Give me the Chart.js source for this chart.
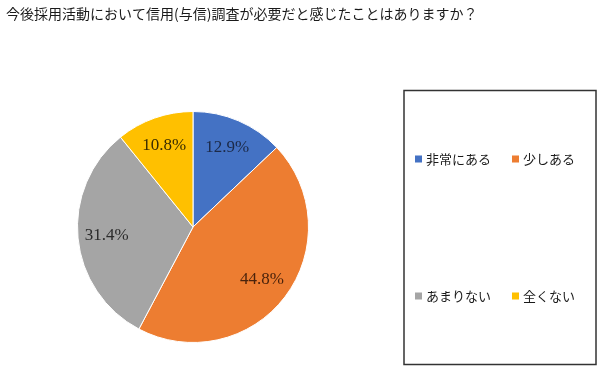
<!DOCTYPE html>
<html>
<head>
<meta charset="utf-8">
<script src="https://cdn.jsdelivr.net/npm/chart.js@4/dist/chart.umd.min.js"></script>
<style>
html,body{margin:0;padding:0;background:#fff;}
#wrap{position:relative;width:600px;height:384px;}
</style>
</head>
<body>
<div id="wrap"><canvas id="c" width="600" height="384"></canvas></div>
<script>
const titleText = '今後採用活動において信用(与信)調査が必要だと感じたことはありますか？';
const categories = ['非常にある', '少しある', 'あまりない', '全くない'];
const values = [12.9, 44.8, 31.4, 10.8];
const valueLabels = ['12.9%', '44.8%', '31.4%', '10.8%'];
const colors = ['#4472C4', '#ED7D31', '#A5A5A5', '#FFC000'];
const labelColors = ['#1c2a48', '#4a230c', '#2b2b2b', '#3a2c00'];

const titlePlugin = {
  id: 'customTitle',
  afterDraw(chart) {
    const ctx = chart.ctx;
    ctx.save();
    ctx.fillStyle = '#1a1a1a';
    ctx.font = '14px "Noto Sans CJK JP", sans-serif';
    ctx.textBaseline = 'middle';
    ctx.textAlign = 'left';
    ctx.fillText(titleText, 6, 14);
    ctx.restore();
  }
};

const sliceLabels = {
  id: 'sliceLabels',
  afterDatasetsDraw(chart) {
    const ctx = chart.ctx;
    const meta = chart.getDatasetMeta(0);
    ctx.save();
    ctx.font = '17px "Liberation Serif", serif';
    ctx.textAlign = 'center';
    ctx.textBaseline = 'middle';
    meta.data.forEach((arc, i) => {
      const p = arc.getProps(['x', 'y', 'startAngle', 'endAngle', 'outerRadius'], true);
      const mid = (p.startAngle + p.endAngle) / 2;
      const r = p.outerRadius * 0.75;
      ctx.fillStyle = labelColors[i];
      ctx.fillText(valueLabels[i], p.x + Math.cos(mid) * r, p.y + Math.sin(mid) * r);
    });
    ctx.restore();
  }
};

const legendBox = {
  id: 'legendBox',
  afterDraw(chart) {
    const ctx = chart.ctx;
    ctx.save();
    ctx.strokeStyle = '#333';
    ctx.lineWidth = 1.5;
    ctx.strokeRect(404, 90.5, 192, 274);
    const pos = [[418, 159], [515, 159], [418, 296], [515, 296]];
    ctx.font = '13px "Noto Sans CJK JP", sans-serif';
    ctx.textBaseline = 'middle';
    ctx.textAlign = 'left';
    categories.forEach((c, i) => {
      const [x, y] = pos[i];
      ctx.fillStyle = colors[i];
      ctx.fillRect(x - 3, y - 3.5, 7, 7);
      ctx.fillStyle = '#1a1a1a';
      ctx.fillText(c, x + 8, y);
    });
    ctx.restore();
  }
};

new Chart(document.getElementById('c'), {
  type: 'pie',
  data: {
    labels: categories,
    datasets: [{
      data: values,
      backgroundColor: colors,
      borderColor: '#ffffff',
      borderWidth: 1
    }]
  },
  options: {
    responsive: false,
    animation: false,
    layout: { padding: { left: 77, right: 291, top: 111, bottom: 41 } },
    plugins: {
      legend: { display: false },
      title: { display: false },
      tooltip: { enabled: false }
    }
  },
  plugins: [titlePlugin, sliceLabels, legendBox]
});
</script>
</body>
</html>
